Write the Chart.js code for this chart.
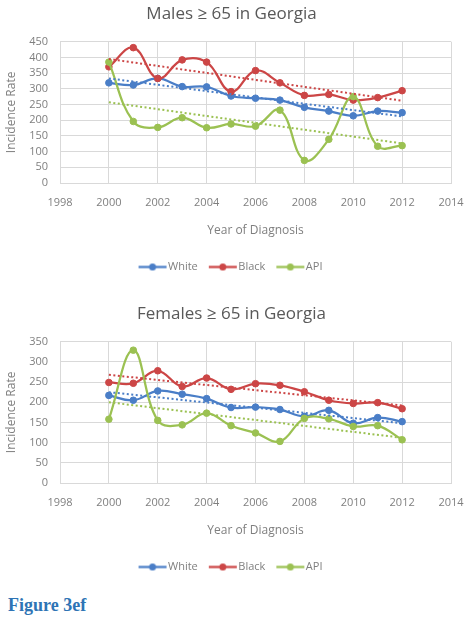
<!DOCTYPE html>
<html>
<head>
<meta charset="utf-8">
<script src="https://cdn.jsdelivr.net/npm/chart.js@4.4.0/dist/chart.umd.min.js"></script>
<style>
  html, body { margin: 0; padding: 0; background: #fff; }
  body { width: 469px; height: 620px; position: relative; overflow: hidden; }
  canvas { position: absolute; left: 0; }
  #males { top: 0; }
  #females { top: 300px; }
  .fig {
    position: absolute; left: 8px; top: 595px;
    font-family: "Liberation Serif", serif; font-weight: bold;
    font-size: 18px; color: #2E74B5;
  }
</style>
</head>
<body>
<canvas id="males" width="469" height="290"></canvas>
<canvas id="females" width="469" height="290"></canvas>
<div class="fig">Figure 3ef</div>

<script>
// data
const years = [2000, 2001, 2002, 2003, 2004, 2005, 2006, 2007, 2008, 2009, 2010, 2011, 2012];
const trendYears = [2000, 2012];

const maleWhite = [319, 312, 333, 307, 306, 277, 270, 264, 241, 229, 214, 229, 224];
const maleBlack = [370, 431, 333, 392, 385, 291, 358, 319, 279, 282, 264, 272, 294];
const maleApi   = [385, 196, 177, 208, 176, 188, 181, 232, 72, 139, 275, 117, 119];
const maleTrendWhite = [333, 212];
const maleTrendBlack = [395, 262];
const maleTrendApi   = [257, 126];

const femaleWhite = [217, 205, 228, 220, 209, 187, 188, 182, 165, 180, 148, 162, 152];
const femaleBlack = [249, 247, 278, 239, 260, 232, 246, 242, 226, 205, 197, 199, 184];
const femaleApi   = [158, 329, 155, 144, 173, 142, 124, 103, 160, 159, 140, 142, 107];
const femaleTrendWhite = [225, 148];
const femaleTrendBlack = [268, 192];
const femaleTrendApi   = [200, 112];

const xTicks = [1998, 2014, 2];
const seriesNames = ["White", "Black", "API"];
const colors = ["#4A7EC7", "#CC4646", "#9BC152"];

const textGray = "#7F7F7F";
const gridGray = "#D9D9D9";
const font = "'Open Sans', sans-serif";

// line-with-dot marker for the legend, shifted right so the text sits close to it
function legendMarker(color) {
    const c = document.createElement("canvas");
    c.width = 32;
    c.height = 9;
    const g = c.getContext("2d");
    g.strokeStyle = color;
    g.lineWidth = 2.25;
    g.beginPath();
    g.moveTo(3, 4.5);
    g.lineTo(31, 4.5);
    g.stroke();
    g.fillStyle = color;
    g.beginPath();
    g.arc(17, 4.5, 3.5, 0, Math.PI * 2);
    g.fill();
    return c;
}

function pts(xs, ys) {
    return xs.map((x, i) => ({ x: x, y: ys[i] }));
}

function makeChart(id, title, yMax, series, trends) {
    const datasets = [];
    series.forEach((vals, i) => {
        datasets.push({
            label: seriesNames[i],
            data: pts(years, vals),
            borderColor: colors[i],
            backgroundColor: colors[i],
            borderWidth: 2.25,
            pointRadius: 3.3,
            pointBorderWidth: 1,
            pointStyle: "circle",
            tension: 0.4,
            order: 3 - i,
        });
    });
    trends.forEach((vals, i) => {
        datasets.push({
            label: "trend" + i,
            data: pts(trendYears, vals),
            borderColor: colors[i],
            borderWidth: 2,
            borderDash: [2, 2.5],
            pointRadius: 0,
            tension: 0,
            order: 0,
        });
    });

    return new Chart(document.getElementById(id), {
        type: "line",
        data: { datasets: datasets },
        options: {
            responsive: false,
            animation: false,
            // title and legend centre on this; the x axis pads itself to 18 on the right
            layout: { padding: { left: 2, right: 8, top: 0, bottom: 7.5 } },
            plugins: {
                title: {
                    display: true,
                    text: title,
                    color: "#595959",
                    font: { family: font, size: 17, weight: "normal" },
                    padding: { top: 4, bottom: 17.3 },
                },
                legend: {
                    position: "bottom",
                    labels: {
                        color: textGray,
                        font: { family: font, size: 11 },
                        usePointStyle: true,
                        pointStyleWidth: 22,
                        boxHeight: 9,
                        padding: 13,
                        generateLabels: (chart) => {
                            return chart.data.datasets.slice(0, 3).map((d, i) => ({
                                text: d.label,
                                fillStyle: d.borderColor,
                                strokeStyle: d.borderColor,
                                fontColor: textGray,
                                lineWidth: 0,
                                pointStyle: legendMarker(d.borderColor),
                                datasetIndex: i,
                                hidden: false,
                            }));
                        },
                    },
                },
                tooltip: { enabled: false },
            },
            scales: {
                x: {
                    type: "linear",
                    min: xTicks[0],
                    max: xTicks[1],
                    ticks: {
                        stepSize: xTicks[2],
                        autoSkip: false,
                        color: textGray,
                        font: { family: font, size: 11 },
                        padding: 13.5,
                        callback: (v) => String(v),
                    },
                    grid: { color: gridGray, drawTicks: false },
                    border: { color: gridGray },
                    title: {
                        display: true,
                        text: "Year of Diagnosis",
                        color: textGray,
                        font: { family: font, size: 12 },
                        padding: { top: 0, bottom: 10.9 },
                    },
                    afterFit: (scale) => {
                        scale.paddingLeft = 0;
                        scale.paddingRight = 18;
                    },
                },
                y: {
                    min: 0,
                    max: yMax,
                    ticks: {
                        stepSize: 50,
                        autoSkip: false,
                        color: textGray,
                        font: { family: font, size: 11 },
                        padding: 12,
                    },
                    grid: { color: gridGray, drawTicks: false },
                    border: { color: gridGray },
                    title: {
                        display: true,
                        text: "Incidence Rate",
                        color: textGray,
                        font: { family: font, size: 12 },
                        padding: { top: 2, bottom: 4 },
                    },
                    afterFit: (scale) => { scale.width = 58; },
                },
            },
        },
    });
}

makeChart("males", "Males \u2265 65 in Georgia", 450,
    [maleWhite, maleBlack, maleApi],
    [maleTrendWhite, maleTrendBlack, maleTrendApi]);
makeChart("females", "Females \u2265 65 in Georgia", 350,
    [femaleWhite, femaleBlack, femaleApi],
    [femaleTrendWhite, femaleTrendBlack, femaleTrendApi]);
</script>
</body>
</html>
